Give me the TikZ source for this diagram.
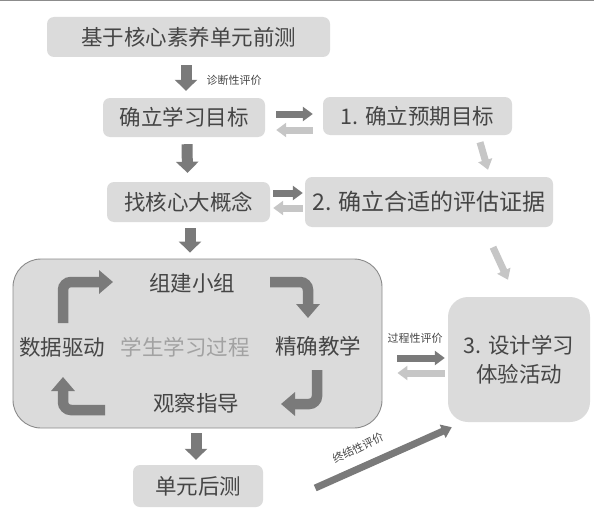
\documentclass[tikz,border=0pt]{standalone}
\usepackage{fontspec}
\newfontfamily\cjk{Noto Sans CJK SC}
\usetikzlibrary{arrows.meta,calc}
\definecolor{boxfill}{HTML}{DBDBDB}
\definecolor{txt}{HTML}{454545}
\definecolor{darkarr}{HTML}{7A7A7A}
\definecolor{lightarr}{HTML}{C6C6C6}
\definecolor{bigborder}{HTML}{8A8A8A}
\definecolor{soft}{HTML}{A2A2A2}
\definecolor{topline}{HTML}{8C8C8C}
\tikzset{
  box/.style={fill=boxfill, rounded corners=7pt, text=txt, inner sep=0pt,
    font=\cjk\fontsize{21.5}{26}\selectfont},
  plain/.style={text=txt, inner sep=0pt, font=\cjk\fontsize{21.5}{26}\selectfont},
  small/.style={text=txt, inner sep=0pt, font=\cjk\fontsize{11}{13}\selectfont},
  downarr/.style={draw=darkarr, line width=11pt, -{Triangle[width=22pt,length=11pt]}},
  darr/.style={draw=darkarr, line width=7pt, -{Triangle[width=14pt,length=10pt]}},
  larr/.style={draw=lightarr, line width=7pt, -{Triangle[width=14pt,length=10pt]}},
  turnarr/.style={draw=darkarr, line width=10.5pt, rounded corners=8pt,
    -{Triangle[width=23pt,length=14pt]}},
}
\begin{document}
\begin{tikzpicture}[x=1pt,y=-1pt]
\useasboundingbox (0,0) rectangle (594,519);
\draw[topline, line width=1.5pt] (0,0.75) -- (594,0.75);

% nodes
\node[box, minimum width=283pt, minimum height=40pt] (b1) at (188.5,37) {基于核心素养单元前测};
\node[box, minimum width=162pt, minimum height=39pt] (b2) at (184,117.5) {确立学习目标};
\node[box, minimum width=189pt, minimum height=38pt] (g1) at (417.5,116) {1. 确立预期目标};
\node[box, minimum width=163pt, minimum height=40pt] (b3) at (188.5,202) {找核心大概念};
\node[box, minimum width=248pt, minimum height=50pt, font=\cjk\fontsize{23}{28}\selectfont] (g2) at (429,202) {2. 确立合适的评估证据};
\node[box, draw=bigborder, line width=0.9pt, rounded corners=28pt, minimum width=369pt, minimum height=169pt] (big) at (197.5,343.5) {};
\node[box, rounded corners=20pt, minimum width=142pt, minimum height=125pt, align=center] (g3) at (519,359.5) {3. 设计学习\\[3pt]体验活动};
\node[box, minimum width=130pt, minimum height=42pt] (b4) at (198,486) {单元后测};

% inner texts
\node[plain] (t1) at (192,283) {组建小组};
\node[plain] (t2) at (318,346) {精确教学};
\node[plain] (t3) at (196,403) {观察指导};
\node[plain] (t4) at (62,347) {数据驱动};
\node[plain, text=soft] (tc) at (185,347) {学生学习过程};

% small labels
\node[small] (l1) at (234,80) {诊断性评价};
\node[small] (l2) at (415,338) {过程性评价};
\node[small, rotate=26] (l3) at (358,448) {终结性评价};

% turning arrows in the cycle
\coordinate (c1s) at (63,323);
\coordinate (c1e) at (113,282);
\draw[turnarr] (c1s) |- (c1e);
\coordinate (c2s) at (270,282);
\coordinate (c2e) at (308,318);
\draw[turnarr] (c2s) -| (c2e);
\coordinate (c3s) at (317,370);
\coordinate (c3e) at (281,404);
\draw[turnarr] (c3s) |- (c3e);
\coordinate (c4s) at (105,410);
\coordinate (c4e) at (63,377);
\draw[turnarr] (c4s) -| (c4e);

% vertical arrows
\draw[downarr] ([xshift=-2.5pt,yshift=-8pt]b1.south) -- ([xshift=2pt,yshift=7pt]b2.north);
\draw[downarr] ([xshift=3pt,yshift=-7pt]b2.south) -- ([xshift=-1pt,yshift=9pt]b3.north);
\draw[downarr] ([xshift=1.5pt,yshift=-6pt]b3.south) -- ([xshift=-7.5pt,yshift=6pt]big.north);
\draw[downarr] ([xshift=-1.5pt,yshift=-5pt]big.south) -- ([xshift=-2pt,yshift=5pt]b4.north);

% horizontal double arrows
\draw[darr] ($(b2.east)+(11,-3.5)$) -- ($(g1.west)+(-10,-2)$);
\draw[larr] ($(g1.west)+(-10,14)$) -- ($(b2.east)+(11,12.5)$);
\draw[darr] ($(b3.east)+(3,-9)$) -- ($(g2.west)+(-2,-9)$);
\draw[larr] ($(g2.west)+(-2,6)$) -- ($(b3.east)+(3,6)$);
\draw[darr] ($(big.east)+(15,14.5)$) -- ($(g3.west)+(-3,-1.5)$);
\draw[larr] ($(g3.west)+(-3,13.5)$) -- ($(big.east)+(15,29.5)$);

% diagonal arrows
\draw[larr] ($(g1.south)+(62.5,7)$) -- ($(g2.north)+(59,-7)$);
\draw[larr] ($(g2.south)+(64,20)$) -- ($(g3.north)+(-11,-17)$);
\draw[darr] ($(b4.east)+(52,2)$) -- ($(g3.south west)+(4,5)$);
\end{tikzpicture}
\end{document}
